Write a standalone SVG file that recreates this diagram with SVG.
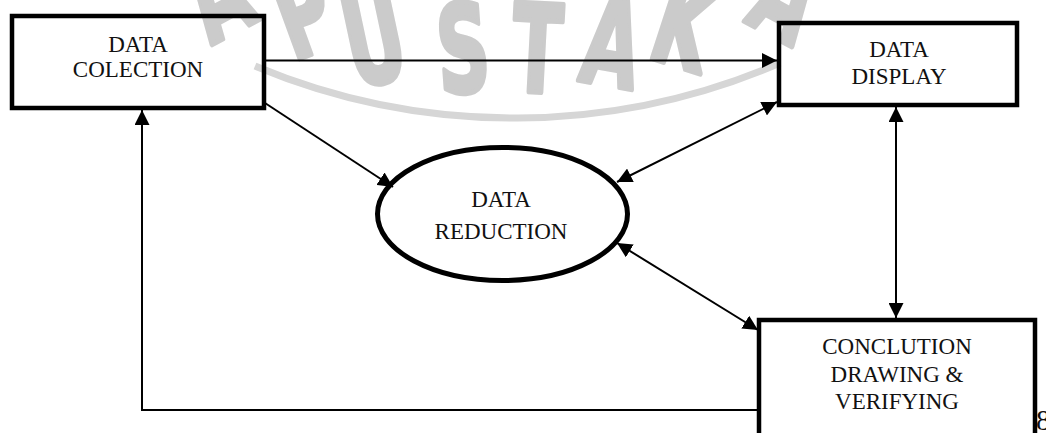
<svg xmlns="http://www.w3.org/2000/svg" width="1046" height="433" viewBox="0 0 1046 433">
<style>
.node{fill:none;stroke:#000;stroke-width:4.5}
.lbl{font-family:"Liberation Serif","Times New Roman",serif;font-size:23px;fill:#111;text-anchor:middle}
.con{fill:none;stroke:#000;stroke-width:2}
.wm{font-family:"DejaVu Sans","Liberation Sans",sans-serif;font-weight:bold;font-size:122px;fill:#cbcbcb;stroke:#cbcbcb;stroke-width:5;stroke-linejoin:round;text-anchor:middle}
</style>
<defs>
<marker id="ah" viewBox="0 0 15 15" refX="15" refY="7.5" markerWidth="15" markerHeight="15" markerUnits="userSpaceOnUse" orient="auto-start-reverse">
<path d="M0,0 L15,7.5 L0,15 z" fill="#000"/>
</marker>
</defs>
<rect width="1046" height="433" fill="#fff"/>
<g id="watermark">
<path d="M255,66 A671,671 0 0 0 780,63" fill="none" stroke="#d6d6d6" stroke-width="7"/>
<text class="wm" transform="translate(236,32) rotate(-28) scale(0.6,1)">A</text>
<text class="wm" transform="translate(318,52) rotate(-20) scale(0.6,1)">P</text>
<text class="wm" transform="translate(383,82) rotate(-12) scale(0.6,1)">U</text>
<text class="wm" transform="translate(466,92) rotate(-4) scale(0.6,1)">S</text>
<text class="wm" transform="translate(535,92) rotate(3) scale(0.6,1)">T</text>
<text class="wm" transform="translate(605,85) rotate(10) scale(0.6,1)">A</text>
<text class="wm" transform="translate(672,65) rotate(18) scale(0.6,1)">K</text>
<text class="wm" transform="translate(768,34) rotate(28) scale(0.6,1)">A</text>
</g>
<g id="connectors">
<line class="con" x1="266" y1="60.5" x2="777" y2="60.5" marker-end="url(#ah)"/>
<line class="con" x1="265" y1="103" x2="393" y2="187" marker-end="url(#ah)"/>
<line class="con" x1="617" y1="182" x2="777" y2="102" marker-start="url(#ah)" marker-end="url(#ah)"/>
<line class="con" x1="617" y1="243" x2="758" y2="330" marker-start="url(#ah)" marker-end="url(#ah)"/>
<line class="con" x1="896" y1="107" x2="896" y2="318" marker-start="url(#ah)" marker-end="url(#ah)"/>
<polyline class="con" points="757,410 142,410 142,110" marker-end="url(#ah)"/>
</g>
<g id="data-colection">
<rect class="node" x="12" y="16" width="252" height="92"/>
<text class="lbl" x="138" y="52">DATA</text>
<text class="lbl" x="138" y="77">COLECTION</text>
</g>
<g id="data-display">
<rect class="node" x="779" y="23" width="238" height="82"/>
<text class="lbl" x="899" y="57">DATA</text>
<text class="lbl" x="899" y="84">DISPLAY</text>
</g>
<g id="data-reduction">
<ellipse class="node" cx="502.5" cy="214" rx="125" ry="66.5" style="stroke-width:5"/>
<text class="lbl" x="501" y="207">DATA</text>
<text class="lbl" x="501" y="239">REDUCTION</text>
</g>
<g id="conclution">
<rect class="node" x="759" y="320" width="276" height="130"/>
<text class="lbl" x="897" y="354">CONCLUTION</text>
<text class="lbl" x="897" y="382">DRAWING &amp;</text>
<text class="lbl" x="897" y="409">VERIFYING</text>
</g>
<text x="1036" y="430" style="font-family:'Liberation Serif','Times New Roman',serif;font-size:29px;fill:#111">8</text>
</svg>
